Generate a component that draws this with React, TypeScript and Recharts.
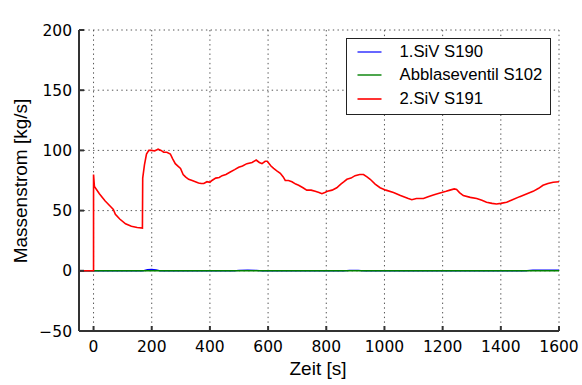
import React from 'react';
import { LineChart, Line, XAxis, YAxis, CartesianGrid, Legend } from 'recharts';

// Axis ticks
const timeTicks = [0, 200, 400, 600, 800, 1000, 1200, 1400, 1600];
const flowTicks = [-50, 0, 50, 100, 150, 200];
const timeDomain: [number, number] = [-50, 1600];
const flowDomain: [number, number] = [-50, 200];

// Mass flow samples: [time s, flow kg/s]
const siv190: [number, number][] = [
  [-50, 0], [170, 0], [185, 1], [200, 1.2], [215, 0.8], [230, 0], [480, 0], [500, 0.4],
  [530, 0.5], [560, 0.3], [580, 0], [860, 0], [880, 0.3], [910, 0.3], [930, 0],
  [1480, 0], [1510, 0.5], [1560, 0.6], [1600, 0.5],
];

const abblase102: [number, number][] = [
  [-50, 0], [1600, 0],
];

const siv191: [number, number][] = [
  [-50, 0], [0, 0], [0, 80], [3, 70], [20, 64], [40, 58], [60, 53], [68, 51], [75, 47],
  [90, 43], [110, 39], [130, 37], [150, 36], [168, 35.5], [169, 77], [175, 88], [182, 97],
  [190, 100], [200, 100], [210, 99.5], [222, 101], [232, 100], [241, 98.5], [252, 98.5],
  [264, 97], [272, 93], [281, 89], [290, 87], [299, 85], [308, 80], [316, 78], [327, 76],
  [339, 75], [350, 74], [361, 73], [370, 72.5], [379, 72.5], [390, 74], [400, 73.5],
  [407, 75], [420, 77], [432, 77.5], [442, 79], [455, 80], [470, 82], [485, 84], [499, 86],
  [512, 87], [527, 89], [545, 90], [559, 92], [570, 90], [579, 89], [590, 91], [597, 91],
  [610, 87], [619, 85], [630, 83], [642, 81], [652, 78], [659, 75], [670, 75], [682, 74],
  [695, 72], [705, 71], [720, 69], [733, 67], [748, 67], [762, 66], [775, 65], [785, 64],
  [795, 65], [804, 66], [820, 67], [836, 69], [850, 72], [861, 74], [871, 76], [885, 77],
  [899, 79], [915, 80], [928, 80], [940, 78], [951, 76], [968, 72], [985, 69], [1005, 67],
  [1031, 65], [1055, 62.5], [1082, 60], [1094, 59], [1110, 60], [1134, 60], [1150, 61.5],
  [1168, 63], [1182, 64], [1197, 65], [1212, 66], [1225, 67], [1240, 68], [1248, 67.5],
  [1258, 65], [1271, 62.5], [1295, 61], [1317, 60], [1335, 58.5], [1351, 57], [1370, 56],
  [1385, 55.5], [1400, 56], [1420, 57], [1440, 59], [1465, 61.6], [1490, 64], [1511, 66],
  [1530, 68.5], [1545, 71], [1562, 72.5], [1580, 73.6], [1600, 74],
];

const toPoints = (rows: [number, number][]) => rows.map(([t, v]) => ({ t, v }));

const seriesList = [
  { name: '1.SiV S190', color: '#0000ff', rows: siv190, width: 1.2 },
  { name: 'Abblaseventil S102', color: '#008000', rows: abblase102, width: 1.4 },
  { name: '2.SiV S191', color: '#ff0000', rows: siv191, width: 1.6 },
];

const frameColor = '#333';
const frameWidth = 2;
const labelFont = '"Liberation Sans", Arial, sans-serif';
const tickFont = '"DejaVu Sans", sans-serif';

const minusSign = (v: number) => String(v).replace('-', '\u2212');

const LegendBox = () => (
  <div
    style={{
      width: 205,
      height: 77,
      boxSizing: 'border-box',
      border: `1.5px solid #222`,
      background: '#fff',
      fontFamily: labelFont,
      fontSize: 16.7,
      color: '#000',
      paddingTop: 1,
    }}
  >
    {seriesList.map((s) => (
      <div key={s.name} style={{ display: 'flex', alignItems: 'center', height: 23.5 }}>
        <svg width={52.5} height={10} style={{ flex: 'none' }}>
          <line x1={10.5} x2={34.5} y1={5} y2={5} stroke={s.color} strokeWidth={s.width} />
        </svg>
        <span style={{ whiteSpace: 'nowrap' }}>{s.name}</span>
      </div>
    ))}
  </div>
);

export default function App() {
  return (
    <div style={{ position: 'absolute', left: 0, top: 0, background: '#fff' }}>
      <LineChart width={582} height={385} margin={{ top: 30, right: 23, left: 0, bottom: 0 }}>
        <CartesianGrid stroke="#555" strokeWidth={1} strokeDasharray="1.4 3.3" />
        <XAxis
          dataKey="t"
          type="number"
          domain={timeDomain}
          ticks={timeTicks}
          interval={0}
          height={54}
          tickSize={-5}
          tickMargin={15}
          stroke={frameColor}
          strokeWidth={frameWidth}
          tick={{ fill: '#000', fontSize: 15.5, fontFamily: tickFont }}
          label={{
            content: () => (
              <text x={318} y={375} textAnchor="middle" fontFamily={labelFont} fontSize={19} fill="#000">
                Zeit [s]
              </text>
            ),
          }}
        />
        <XAxis
          xAxisId="top"
          orientation="top"
          type="number"
          domain={timeDomain}
          ticks={timeTicks}
          interval={0}
          height={0}
          tickSize={-5}
          stroke={frameColor}
          strokeWidth={frameWidth}
          tick={() => null}
          label={{
            content: () => (
              <text x={318} y={22.5} textAnchor="middle" fontFamily={labelFont} fontSize={18.7} fill="#000">
                Durchfluss DH-Ventile
              </text>
            ),
          }}
        />
        <YAxis
          type="number"
          domain={flowDomain}
          ticks={flowTicks}
          interval={0}
          width={79}
          tickSize={-5}
          tickMargin={12}
          stroke={frameColor}
          strokeWidth={frameWidth}
          tickFormatter={minusSign}
          tick={{ fill: '#000', fontSize: 15.5, fontFamily: tickFont }}
          label={{
            content: () => (
              <text
                x={27}
                y={181}
                textAnchor="middle"
                transform="rotate(-90 27 181)"
                fontFamily={labelFont}
                fontSize={19}
                fill="#000"
              >
                Massenstrom [kg/s]
              </text>
            ),
          }}
        />
        <YAxis
          yAxisId="right"
          orientation="right"
          type="number"
          domain={flowDomain}
          ticks={flowTicks}
          interval={0}
          width={0}
          tickSize={-5}
          stroke={frameColor}
          strokeWidth={frameWidth}
          tick={() => null}
        />
        {seriesList.map((s) => (
          <Line
            key={s.name}
            name={s.name}
            data={toPoints(s.rows)}
            dataKey="v"
            type="linear"
            stroke={s.color}
            strokeWidth={s.width}
            dot={false}
            activeDot={false}
            isAnimationActive={false}
          />
        ))}
        <Legend
          layout="vertical"
          align="center"
          verticalAlign="middle"
          wrapperStyle={{ position: 'absolute', top: 38, left: 346, width: 205, height: 77 }}
          content={() => <LegendBox />}
        />
      </LineChart>
    </div>
  );
}
